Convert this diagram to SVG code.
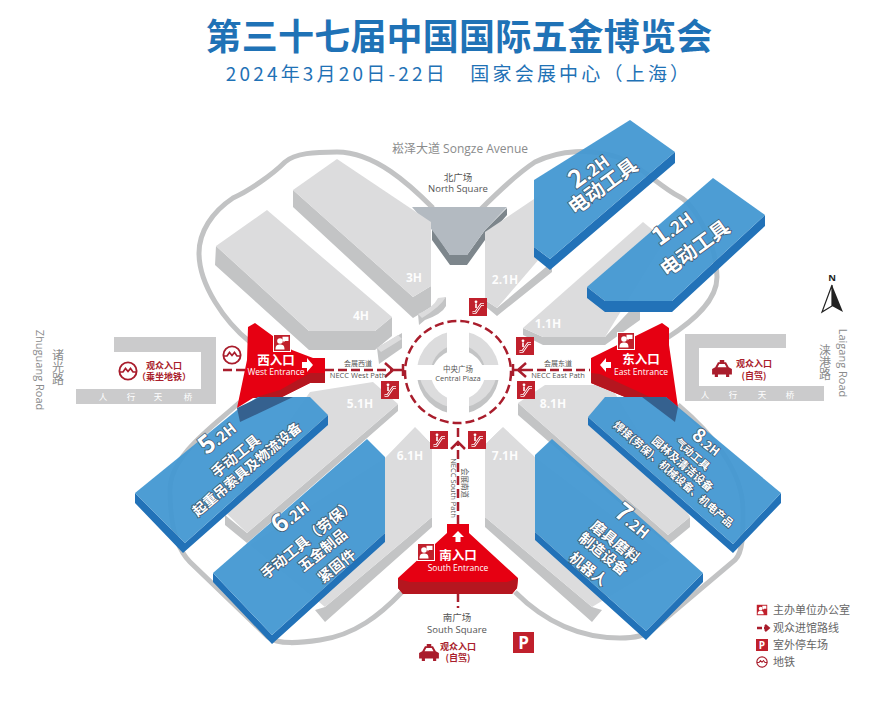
<svg xmlns="http://www.w3.org/2000/svg" width="885" height="709" viewBox="0 0 885 709">
<style>
text{font-family:"Open Sans","Noto Sans CJK SC",sans-serif;text-anchor:middle}
.cjk{font-family:"Noto Sans CJK SC",sans-serif}
.top{fill:#dcdcdd}.side{fill:#c3c4c5}
.btop{fill:#4398d2;fill-opacity:.95}.bside{fill:#2272b8}
.red{fill:#e60012}.dred{fill:#b5161f}
.ring{fill:none;stroke:#c2c3c4;stroke-width:5}
.hn{fill:#fff;font-size:12px;font-weight:700;opacity:.95}
.bl{fill:#fff;font-weight:700;stroke:#3f5a72;stroke-width:1.6px;paint-order:stroke;font-family:"Noto Sans CJK SC",sans-serif}
.road{fill:#8a8b8c}
.vert{writing-mode:vertical-rl;text-orientation:upright;font-size:12px}
.lb{fill:#555}
.ent{fill:#fff;font-size:12.5px;font-weight:700;font-family:"Noto Sans CJK SC",sans-serif}
.ene{fill:#fff;font-size:8.5px}
.path{fill:none;stroke:#a91d2c;stroke-width:2.5}
.dash{stroke-dasharray:9 4}
.vis{fill:#a91d2c;font-size:9px;font-weight:700;font-family:"Noto Sans CJK SC",sans-serif}
.bridge{fill:#cbcbcc}
.bt{fill:#fff;font-size:8.5px;font-family:"Noto Sans CJK SC",sans-serif}
.leg{fill:#666;font-size:11px;text-anchor:start;font-family:"Noto Sans CJK SC",sans-serif}
</style>
<defs>
<symbol id="esc" viewBox="0 0 18 18"><rect width="18" height="18" fill="#c0202c"/><path d="M3.5 14.5H6.5L12 6.5H15" fill="none" stroke="#fff" stroke-width="2.6"/><path d="M3.5 14.5H6.5L12 6.5H15" fill="none" stroke="#c0202c" stroke-width="1"/><circle cx="7" cy="3.8" r="1.4" fill="#fff"/><path d="M7 5.5V10" stroke="#fff" stroke-width="1.6"/></symbol>
<symbol id="off" viewBox="0 0 18 18"><rect x=".5" y=".5" width="17" height="17" fill="#c0202c" stroke="#fff"/><circle cx="7" cy="7" r="2.8" fill="#fff"/><path d="M2.5 15.5C2.5 11 4.5 10.500 7 10.500S11.500 11 11.500 15.500Z" fill="#fff"/><path d="M9.500 2.800H15.500V7H12L10.500 8.500V7H9.500Z" fill="#fff"/></symbol>
<symbol id="metro" viewBox="0 0 20 20"><circle cx="10" cy="10" r="8.600" fill="none" stroke="#a91d2c" stroke-width="1.900"/><path d="M1.500 11H5L7.500 7.500L10 10.500L12.500 7.500L15 11H18.500" fill="none" stroke="#a91d2c" stroke-width="1.700"/></symbol>
<symbol id="taxi" viewBox="0 0 24 20"><path d="M9.500 0H14.500V2.500H16.500L19.500 8L23 10V16H20V19H16.500V16H7.500V19H4V16H1V10L4.500 8L7.500 2.500H9.500ZM9 4.500L7 8H17L15 4.500Z" fill="#a91d2c" fill-rule="evenodd"/></symbol>
<clipPath id="cu"><rect x="405" y="320" width="42" height="45"/><rect x="469" y="320" width="42" height="45"/></clipPath>
<clipPath id="cd"><rect x="405" y="380" width="42" height="45"/><rect x="469" y="380" width="42" height="45"/></clipPath>
</defs>

<g id="title">
<text x="459" y="50" class="cjk" font-size="36" font-weight="700" fill="#1f72b6" letter-spacing=".2">第三十七届中国国际五金博览会</text>
<text x="459" y="81" class="cjk" font-size="19" font-weight="400" fill="#1f72b6" letter-spacing="3.200" xml:space="preserve">2024年3月20日-22日   国家会展中心（上海）</text>
</g>

<g id="connectors">
<path class="ring" d="M433,208C410,185 375,152 337,152C315,152 295,153 285,162C272,175 250,190 233,198C212,212 199,232 199,253C199,285 225,322 250,342"/>
<path class="ring" d="M240,402C215,425 170,455 170,490C170,530 178,550 190,562L268,637C278,645 300,643 320,640C355,635 380,615 402,592"/>
<path class="ring" d="M515,592C540,617 575,638 620,638C635,638 645,636 652,630L735,560C743,552 743,535 743,510C743,470 710,432 678,405"/>
<path class="ring" d="M667,338C695,320 717,300 717,277C717,245 695,205 680,197C660,187 640,165 620,158C590,148 560,150 535,162C515,175 495,195 480,210"/>
</g>

<g id="bridge-west"><path class="bridge" d="M114,337H216V404H76V389H201V352H114Z"/>
<text class="bt" x="103" y="400">人</text><text class="bt" x="131" y="400">行</text><text class="bt" x="158" y="400">天</text><text class="bt" x="188" y="400">桥</text></g>
<g id="bridge-east"><path class="bridge" d="M685,334H786V348H699V386H824V401H685Z"/>
<text class="bt" x="705" y="398">人</text><text class="bt" x="733" y="398">行</text><text class="bt" x="762" y="398">天</text><text class="bt" x="790" y="398">桥</text></g>

<g id="north-square"><path fill="#7d868c" d="M432,228L450,255H467L485,230L507,208V215L485,240L467,265H450L432,240Z"/><path fill="#b3bac1" d="M412,207H507L485,230L467,255H450L432,230Z"/><text class="lb" x="458" y="181" font-size="9.500">北广场</text><text class="lb" x="458" y="192" font-size="9.500">North Square</text></g>
<g id="hall-3H"><path class="side" d="M293,190L413,297L431,286V307L413,318L293,207Z"/><path class="top" d="M293,190L337,159L431,222V286L413,297Z"/><text class="hn" x="414" y="282">3H</text></g>
<g id="hall-4H"><path class="side" d="M216,246L309,331H375L392,317V336L375,350H309L215,265Z"/><path class="top" d="M216,246L267,210L392,317L375,331H309Z"/><text class="hn" x="361" y="320">4H</text></g>
<path class="side" d="M418,314Q435,308 441,299L446,297V306Q442,314 425,320L419,325Z"/>
<path class="top" d="M418,314Q433,308 438,298L446,297Q440,307 422,318Z"/>
<path class="side" d="M377,348L402,333V348L379,364Z"/>
<path class="top" d="M377,348L398,335L402,339L381,352Z"/>
<g id="hall-2.1H"><path class="side" d="M485,300L497,308L552,262V272L497,316L485,306Z"/><path class="top" d="M485,232L540,195V258L497,308L485,300Z"/><text class="hn" x="505" y="284">2.1H</text></g>
<g id="hall-1.1H"><path class="side" d="M523,328L543,337H605L640,300V320L605,345H543L523,335Z"/><path class="top" d="M523,328L643,222L665,240L605,337H543Z"/><text class="hn" x="548" y="328">1.1H</text></g>
<g id="hall-5.1H"><path class="side" d="M225,515L247,533L398,404V411L247,543L225,525Z"/><path class="top" d="M225,512L310,392L373,382L398,404L247,533Z"/><text class="hn" x="360" y="408">5.1H</text></g>
<g id="hall-6.1H"><path class="side" d="M415,427L432,445V527L325,622L315,610L325,607L432,517V447Z"/><path class="top" d="M385,458L415,427L432,445V517L325,607L250,545Z"/><text class="hn" x="410" y="460">6.1H</text></g>
<g id="hall-7.1H"><path class="side" d="M503,427L485,445V527L592,622L602,610L592,607L485,517V447Z"/><path class="top" d="M485,445L503,427L536,458L670,560L592,607L485,517Z"/><text class="hn" x="505" y="460">7.1H</text></g>
<g id="hall-8.1H"><path class="side" d="M518,403L668,535L690,517V527L668,545L518,415Z"/><path class="top" d="M518,403L545,385H610L690,517L668,535Z"/><text class="hn" x="553" y="408">8.1H</text></g>

<g id="central-plaza">
<g clip-path="url(#cu)"><circle cx="458" cy="372" r="41" fill="#dcdcdd"/><circle cx="458" cy="372" r="27" fill="#c3c4c5"/><circle cx="458" cy="377" r="27" fill="#fff"/></g>
<g clip-path="url(#cd)"><circle cx="458" cy="373" r="41" fill="#c3c4c5"/><circle cx="458" cy="369" r="39" fill="#dcdcdd"/><circle cx="458" cy="373" r="27" fill="#fff"/></g>
<ellipse class="path dash" cx="458" cy="372" rx="53" ry="51" stroke-dasharray="12 4"/>
<text class="lb" x="458" y="372" font-size="7.500">中央广场</text><text class="lb" x="458" y="381" font-size="7.500">Central Plaza</text>
</g>

<g id="routes">
<path class="path dash" d="M223,370H250M325,370H392"/><path class="path" d="M392,370H404M403,364V376M385,363L393,370L385,377"/>
<path class="path dash" d="M524,370H590"/><path class="path" d="M512,370H524M513,364V376M526,363L518,370L526,377"/>
<path class="path dash" d="M458,524V443M458,593V608"/><path class="path" d="M458,428V437M451,449L458,442L465,449"/>
<text class="lb" x="358" y="366" font-size="7">会展西道</text><text class="lb" x="358" y="378" font-size="7.500">NECC West Path</text>
<text class="lb" x="558" y="366" font-size="7">会展东道</text><text class="lb" x="558" y="378" font-size="7.500">NECC East Path</text>
<text class="lb" transform="translate(462,483) rotate(90)" font-size="7.500">会展南道</text><text class="lb" transform="translate(451,488) rotate(90)" font-size="7.500">NECC South Path</text>
</g>

<g id="west-entrance"><path class="red" d="M248,327L255,323L292,350L313,358H325V383H310L280,398H253L237,408L247,360Z"/><path class="dred" d="M325,373H310L280,390L253,398H280L310,383H325Z"/>
<text class="ent" x="276" y="365">西入口</text><text class="ene" x="276" y="375">West Entrance</text><path fill="#fff" d="M302,362H307V358L313,365L307,372V368H302Z"/></g>
<g id="east-entrance"><path class="red" d="M591,358L662,323L669,328V345L678,407L650,397H625L591,383Z"/><path class="dred" d="M591,373L600,374L650,397H625L591,383Z"/>
<text class="ent" x="641" y="364">东入口</text><text class="ene" x="641" y="375">East Entrance</text><path fill="#fff" d="M611,362H606V358L600,365L606,372V368H611Z"/></g>
<g id="south-entrance"><path class="red" d="M447,524H469V533L518,578L517,588L512,594H403L398,588V578L447,533Z"/><path class="dred" d="M398,579L410,582H507L518,578L517,588L512,594H403L398,588Z"/>
<text class="ent" x="458" y="560">南入口</text><text class="ene" x="458" y="571">South Entrance</text><path fill="#fff" d="M455.500,542V537H452L458,531L464,537H460.500V542Z"/></g>

<g id="hall-2.2H"><path class="bside" d="M534,247L550,259L675,152V163L550,270L534,257Z"/><path class="btop" d="M534,180L630,120L675,152L550,259L534,247Z"/>
<text class="bl" transform="translate(590,172) rotate(-36)" font-size="17" dy=".35em"><tspan font-size="25">2</tspan>.2H</text><text class="bl" transform="translate(607,192) rotate(-36)" font-size="20">电动工具</text></g>
<g id="hall-1.2H"><path class="bside" d="M587,287L605,301H672L765,215V226L672,312H605L587,298Z"/><path class="btop" d="M587,287L713,178L765,215L672,301H605Z"/>
<text class="bl" transform="translate(677,234) rotate(-36)" font-size="17"><tspan font-size="25">1</tspan>.2H</text><text class="bl" transform="translate(699,254) rotate(-36)" font-size="20">电动工具</text></g>
<g id="hall-5.2H"><path class="bside" d="M135,493L185,543L328,415V425L183,553L135,503Z"/><path class="btop" d="M135,493L237,410L258,397H310L328,415L185,543Z"/>
<path fill="#35618f" d="M237,408L260,397H293L240,422Z"/>
<text class="bl" transform="translate(222,443) rotate(-39)" font-size="15"><tspan font-size="25">5</tspan>.2H</text><text class="bl" transform="translate(239,460) rotate(-39)" font-size="14.500">手动工具</text><text class="bl" transform="translate(250,473) rotate(-40)" font-size="13.700">起重吊索具及物流设备</text></g>
<g id="hall-6.2H"><path class="bside" d="M213,573L272,635L385,533V542L272,644L213,582Z"/><path class="btop" d="M213,573L367,439L385,457V533L272,635Z"/>
<text class="bl" transform="translate(295,522) rotate(-39)" font-size="15"><tspan font-size="25">6</tspan>.2H</text><text class="bl" transform="translate(311,543) rotate(-39)" font-size="14.500">手动工具（劳保）</text><text class="bl" transform="translate(326,554) rotate(-39)" font-size="14.500">五金制品</text><text class="bl" transform="translate(340,570) rotate(-39)" font-size="14.500">紧固件</text></g>
<g id="hall-7.2H"><path class="bside" d="M535,532L646,631L703,573V582L646,640L535,540Z"/><path class="btop" d="M535,455L552,439L703,573L646,631L535,532Z"/>
<text class="bl" transform="translate(628,527) rotate(39)" font-size="15"><tspan font-size="25">7</tspan>.2H</text><text class="bl" transform="translate(612,546) rotate(39)" font-size="14.500">磨具磨料</text><text class="bl" transform="translate(600,558) rotate(39)" font-size="14.500">制造设备</text><text class="bl" transform="translate(585,573) rotate(39)" font-size="14.500">机器人</text></g>
<g id="hall-8.2H"><path class="bside" d="M588,417L733,544L781,493V503L733,553L588,425Z"/><path class="btop" d="M588,417L605,397H666L781,493L733,544Z"/>
<path fill="#35618f" d="M642,397H666L678,407L675,422Z"/>
<text class="bl" transform="translate(703,447) rotate(38)" font-size="12"><tspan font-size="19">8</tspan>.2H</text><text class="bl" transform="translate(690,457) rotate(41)" font-size="10.500">气动工具</text><text class="bl" transform="translate(680,467) rotate(41)" font-size="11">园林及清洁设备</text><text class="bl" transform="translate(671,477) rotate(41)" font-size="10.500">焊接(劳保)、机械设备、机电产品</text></g>

<g id="escalators">
<use href="#esc" x="469" y="298" width="18" height="18"/><use href="#esc" x="516" y="337" width="18" height="18"/><use href="#esc" x="517" y="381" width="18" height="18"/><use href="#esc" x="381" y="381" width="18" height="18"/><use href="#esc" x="430" y="431" width="18" height="18"/><use href="#esc" x="468" y="431" width="18" height="18"/>
</g>
<g id="offices"><use href="#off" x="273" y="334" width="18" height="18"/><use href="#off" x="617" y="332" width="18" height="18"/><use href="#off" x="417" y="543" width="18" height="18"/></g>

<g id="west-gate"><use href="#metro" x="222" y="345" width="20" height="20"/><use href="#metro" x="118" y="361" width="20" height="20"/><text class="vis" x="164" y="369">观众入口</text><text class="vis" x="164" y="380">（乘坐地铁）</text></g>
<g id="east-gate"><use href="#taxi" x="711" y="360" width="22" height="18"/><text class="vis" x="754" y="367">观众入口</text><text class="vis" x="754" y="379">(自驾)</text></g>
<g id="south-gate"><text class="lb" x="457" y="621" font-size="9.500">南广场</text><text class="lb" x="457" y="633" font-size="9.500">South Square</text><use href="#taxi" x="418" y="644" width="22" height="18"/><text class="vis" x="458" y="650">观众入口</text><text class="vis" x="458" y="661">(自驾)</text></g>
<g id="parking"><rect x="513" y="632" width="21" height="21" fill="#c0202c"/><text x="523.500" y="649" fill="#fff" font-size="17" font-weight="700">P</text></g>

<g id="roads">
<text class="road" x="460" y="153" font-size="12"><tspan class="cjk">崧泽大道</tspan> Songze Avenue</text>
<text class="road cjk vert" x="58" y="367">诸光路</text>
<text class="road" font-size="11" transform="translate(36,370) rotate(90)">Zhuguang Road</text>
<text class="road cjk vert" x="825" y="362">涞港路</text>
<text class="road" font-size="11" transform="translate(839,363) rotate(90)">Laigang Road</text>
</g>
<g id="north-arrow"><text x="832" y="281" font-size="9.500" font-weight="700" fill="#222">N</text><path d="M832,285L822,312L832,306Z" fill="#fff" stroke="#222" stroke-width="1.200"/><path d="M832,285L843,312L832,306Z" fill="#222"/></g>
<g id="legend">
<use href="#off" x="756" y="604" width="12" height="12"/><text class="leg" x="773" y="614">主办单位办公室</text>
<path class="path" stroke-width="1.400" d="M757,628H762M764,628H768M765,625L768.500,628L765,631"/><text class="leg" x="773" y="632">观众进馆路线</text>
<rect x="756" y="639" width="12" height="12" fill="#c0202c"/><text x="762" y="649" fill="#fff" font-size="10" font-weight="700">P</text><text class="leg" x="773" y="649">室外停车场</text>
<use href="#metro" x="756" y="656" width="12" height="12"/><text class="leg" x="773" y="666">地铁</text>
</g>
</svg>
